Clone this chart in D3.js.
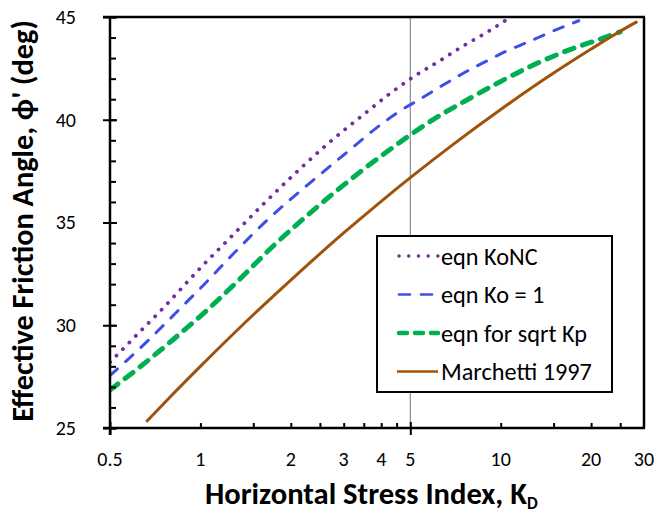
<!DOCTYPE html>
<html><head><meta charset="utf-8">
<script src="https://cdn.jsdelivr.net/npm/d3@7"></script>
<style>
html,body{margin:0;padding:0;background:#fff;}
text{font-family:Carlito,Calibri,Lato,"Open Sans",sans-serif;}
</style></head>
<body><svg id="c" width="659" height="514"></svg>
<script>
// ---- data ----
const seriesNames = ["eqn KoNC", "eqn Ko = 1", "eqn for sqrt Kp", "Marchetti 1997"];
const kdKoNC  = [0.5, 0.614, 0.75, 1, 1.286, 1.65, 2.03, 2.64, 3.47, 4.32, 5.17, 6.22, 7.46, 8.98, 10.8];
const phiKoNC = [28.2, 29.53, 30.82, 32.79, 34.41, 36.01, 37.28, 38.8, 40.22, 41.32, 42.13, 42.84, 43.57, 44.25, 45.0];
const kdKo1   = [0.5, 0.672, 0.857, 1, 1.292, 1.67, 2.0, 2.27, 3.02, 3.84, 4.67, 5.44, 6.35, 7.5, 8.87, 10.35, 12.4, 14.8, 18.2];
const phiKo1  = [27.55, 29.28, 30.82, 31.8, 33.5, 35.12, 36.14, 36.82, 38.32, 39.58, 40.47, 41.04, 41.64, 42.26, 42.82, 43.31, 43.8, 44.29, 44.82];
const kdKp    = [0.5, 0.63, 0.814, 1.053, 1.36, 1.76, 2.21, 2.79, 3.43, 4.32, 5.04, 6.1, 7.8, 10.2, 13.0, 16.9, 21.8, 25.0];
const phiKp   = [26.85, 27.98, 29.32, 30.74, 32.28, 33.9, 35.2, 36.45, 37.5, 38.6, 39.3, 40.1, 41.0, 41.93, 42.7, 43.4, 43.96, 44.28];
const kdMar   = [0.66, 0.8, 1, 1.5, 2, 3, 4, 5, 7, 10, 15, 20, 25, 28.5];
const phiMar  = [25.3, 26.57, 28, 30.51, 32.2, 34.49, 36.03, 37.18, 38.84, 40.5, 42.27, 43.44, 44.31, 44.78];
const xTickLabels = [0.5, 1, 2, 3, 4, 5, 10, 20, 30];
const xMajorTicks = [0.5, 5];
const xMinorTicks = [1, 1.5, 2, 2.5, 3, 3.5, 4, 4.5, 10, 15, 20, 25];
const yTickLabels = [25, 30, 35, 40, 45];
const yMinorTicks = d3.range(25, 46, 1);
const refLineK = 5;

// ---- layout ----
const L = 110, R = 644, T = 17, B = 428;
const FONT = "Lato, sans-serif";
const svg = d3.select("#c");
const x = d3.scaleLog().domain([0.5, 30]).range([L, R]);
const y = d3.scaleLinear().domain([25, 45]).range([B, T]);

function fit(sel, target){
  const w = sel.node().getComputedTextLength();
  const fs = parseFloat(sel.attr("font-size"));
  sel.attr("font-size", fs * target / w);
}

svg.append("defs").append("clipPath").attr("id","clip")
  .append("rect").attr("x",L).attr("y",T-2).attr("width",R-L).attr("height",B-T+2);

// reference vertical line at KD = 5
svg.append("line").attr("x1",x(refLineK)).attr("x2",x(refLineK)).attr("y1",T).attr("y2",B)
  .attr("stroke","#8c8c8c").attr("stroke-width",1.2);

// series
const styles = [
  {k:kdKoNC, p:phiKoNC, color:"#7030A0", w:3.8, dash:"0.1 9.1", legDash:"0.1 9.6"},
  {k:kdKo1,  p:phiKo1,  color:"#3D4FE6", w:3,   dash:"10 11",   legDash:"11 11"},
  {k:kdKp,   p:phiKp,   color:"#00B050", w:5,   dash:"10 9",    legDash:"8 8"},
  {k:kdMar,  p:phiMar,  color:"#A0520C", w:3,   dash:null,       legDash:null}
];
const line = d3.line().x(d=>x(d[0])).y(d=>y(d[1])).curve(d3.curveMonotoneX);
const g = svg.append("g").attr("clip-path","url(#clip)");
styles.forEach(s=>{
  const pts = s.k.map((k,i)=>[k, s.p[i]]);
  g.append("path").attr("d", line(pts)).attr("fill","none")
    .attr("stroke", s.color).attr("stroke-width", s.w)
    .attr("stroke-linecap", s.dash ? "round" : "butt")
    .attr("stroke-dasharray", s.dash);
});

// frame: top and right
svg.append("line").attr("x1",L-7).attr("x2",R+1).attr("y1",T).attr("y2",T).attr("stroke","#000").attr("stroke-width",2.5);
svg.append("line").attr("x1",R).attr("x2",R).attr("y1",T).attr("y2",B).attr("stroke","#000").attr("stroke-width",2.5);

// y axis
const yAx = svg.append("g").attr("transform",`translate(${L},0)`)
  .call(d3.axisLeft(y).tickValues(yMinorTicks).tickSize(-6).tickFormat(""));
yAx.select(".domain").remove();
yAx.selectAll(".tick line").attr("stroke","#000").attr("stroke-width",2);
const yMaj = svg.append("g").attr("transform",`translate(${L},0)`)
  .call(d3.axisLeft(y).tickValues(yTickLabels).tickSize(7).tickPadding(27).tickFormat(d3.format("d")));
yMaj.select(".domain").remove();
yMaj.selectAll(".tick line").attr("x2",-7).attr("x1",7).attr("stroke","#000").attr("stroke-width",2);
yMaj.selectAll(".tick text").attr("font-size",20).attr("fill","#000").attr("font-family",FONT);
svg.append("line").attr("x1",L).attr("x2",L).attr("y1",T-1).attr("y2",B+7).attr("stroke","#000").attr("stroke-width",2.5);

// x axis
const xAx = svg.append("g").attr("transform",`translate(0,${B})`)
  .call(d3.axisBottom(x).tickValues(xMinorTicks).tickSize(-5).tickFormat(""));
xAx.select(".domain").remove();
xAx.selectAll(".tick line").attr("stroke","#000").attr("stroke-width",2);
const xMaj = svg.append("g").attr("transform",`translate(0,${B})`)
  .call(d3.axisBottom(x).tickValues(xMajorTicks).tickSize(7).tickFormat(""));
xMaj.select(".domain").remove();
xMaj.selectAll(".tick line").attr("y1",-6).attr("y2",7).attr("stroke","#000").attr("stroke-width",2);
svg.append("g").selectAll("text").data(xTickLabels).join("text")
  .attr("x", d=>x(d)).attr("y", 466).attr("text-anchor","middle")
  .attr("font-size",20).attr("font-family",FONT).attr("fill","#000").text(d=>String(d));
svg.append("line").attr("x1",L-7).attr("x2",R+1).attr("y1",B).attr("y2",B).attr("stroke","#000").attr("stroke-width",2.5);

// axis titles
const xt = svg.append("text").attr("x",205).attr("y",504)
  .attr("font-size",23).attr("font-weight","bold").attr("font-family",FONT);
const xtMain = xt.append("tspan").text("Horizontal Stress Index, K");
fit(xt, 322);
xt.append("tspan").attr("font-size",17).attr("dy",5).text("D");
const yt = svg.append("text").attr("transform","translate(33,221) rotate(-90)").attr("text-anchor","middle")
  .attr("font-size",23).attr("font-weight","bold").attr("font-family",FONT)
  .text("Effective Friction Angle, \u03D5' (deg)");
fit(yt, 402);

// legend
const lg = svg.append("g");
lg.append("rect").attr("x",377).attr("y",236).attr("width",235).attr("height",156)
  .attr("fill","#fff").attr("stroke","#000").attr("stroke-width",2);
const rowY = [256, 294.5, 333, 371.5];
styles.forEach((s,i)=>{
  lg.append("line").attr("x1", s.dash ? 399 : 397).attr("x2",438).attr("y1",rowY[i]).attr("y2",rowY[i])
    .attr("stroke",s.color).attr("stroke-width",s.w*0.9)
    .attr("stroke-linecap", s.dash ? "round" : "butt")
    .attr("stroke-dasharray", s.legDash);
  const t = lg.append("text").attr("x",441).attr("y",rowY[i]).attr("dy","0.36em")
    .attr("font-size",20).attr("font-family",FONT).attr("fill","#000").text(seriesNames[i]);
  if(i===3) fit(t, 151);
});
const legFs = lg.selectAll("text").filter((d,i)=>i===3).attr("font-size");
lg.selectAll("text").attr("font-size", legFs);
</script></body></html>
